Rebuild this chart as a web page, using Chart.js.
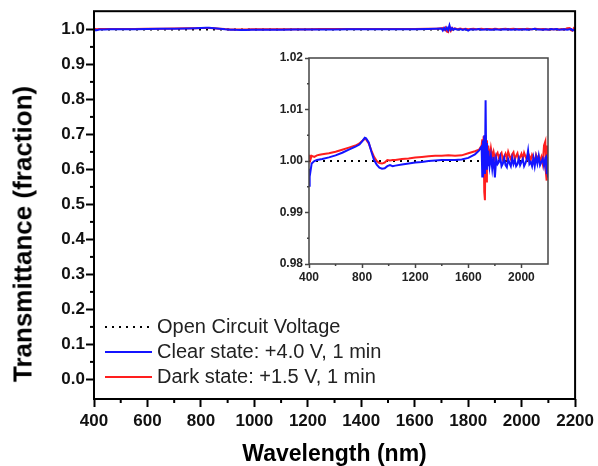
<!DOCTYPE html>
<html lang="en">
<head>
  <meta charset="UTF-8" />
  <title>Transmittance</title>
  <script src="https://cdn.jsdelivr.net/npm/chart.js"></script>
  <style>
    body { margin: 0; background: #fff; overflow: hidden; }
    #wrap { position: relative; width: 598px; height: 466px; font-family: "Liberation Sans", Arial, sans-serif; }
    #mainChart { position: absolute; left: 0; top: 0; }
    #insetChart { position: absolute; left: 262px; top: 46px; }
    .ytitle { position: absolute; left: 23px; top: 234px; transform: translate(-50%, -50%) rotate(-90deg);
      white-space: nowrap; font-size: 26px; font-weight: bold; color: #000; }
    .legend { position: absolute; left: 105px; top: 314px; font-size: 20px; color: #222; }
    .legend div { height: 25px; display: flex; align-items: center; }
    .legend span.mark { display: inline-block; width: 47px; height: 2px; margin-right: 5px; }
  </style>
</head>
<body>
  <div id="wrap">
    <canvas id="mainChart" width="598" height="466"></canvas>
    <canvas id="insetChart" width="298" height="246"></canvas>
    <div class="ytitle">Transmittance (fraction)</div>
    <div class="legend">
      <div><span class="mark" style="background: repeating-linear-gradient(to right, #000 0 2px, transparent 2px 7px);"></span>Open Circuit Voltage</div>
      <div><span class="mark" style="background:#1414ff"></span>Clear state: +4.0 V, 1 min</div>
      <div><span class="mark" style="background:#ff1e1e"></span>Dark state: +1.5 V, 1 min</div>
    </div>
  </div>

  <script>
    // wavelength (nm)
    const wavelengths = [400,405,410,420,440,460,480,500,550,600,650,700,750,780,800,820,830,850,870,890,
      910,930,950,970,990,1010,1030,1050,1100,1150,1200,1250,1300,1350,1400,1450,1500,1550,1600,1650,
      1680,1700,1705,1710,1715,1720,1725,1730,1735,1740,1745,1750,1760,1770,1780,1790,1800,1810,1820,1830,
      1840,1850,1860,1870,1880,1890,1900,1910,1920,1930,1940,1950,1960,1970,1980,1990,2000,2010,2020,2030,
      2040,2050,2060,2070,2080,2090,2100,2110,2120,2130,2140,2150,2160,2170,2180,2185,2190,2195,2200];

    // clear state +4.0 V (blue)
    const clearState = [0.9952,0.9985,0.9978,0.9995,1.0000,1.0002,1.0003,1.0004,1.0007,1.0011,1.0016,1.0022,1.0028,1.0032,1.0038,1.0045,1.0044,1.0036,1.0018,1.0002,
      0.9993,0.9987,0.9985,0.9986,0.9990,0.9992,0.9990,0.9991,0.9993,0.9995,0.9997,0.9998,1.0000,1.0001,1.0002,1.0002,1.0002,1.0003,1.0006,1.0013,
      1.0020,1.0028,0.9970,1.0040,0.9985,1.0050,0.9975,1.0118,0.9985,1.0035,0.9990,1.0020,0.9990,1.0010,0.9985,1.0008,0.9968,1.0005,0.9994,0.9998,
      1.0008,0.9990,0.9995,1.0006,0.9992,0.9988,1.0004,0.9996,0.9990,1.0006,0.9994,1.0002,0.9990,0.9994,1.0005,0.9992,0.9998,1.0004,0.9990,0.9996,
      1.0003,1.0020,0.9994,0.9998,0.9990,1.0006,0.9990,1.0008,0.9995,1.0010,0.9992,0.9998,1.0004,0.9990,1.0006,1.0008,0.9975,0.9985,0.9968];

    // dark state +1.5 V (red)
    const darkState = [1.0005,1.0012,1.0002,1.0010,1.0008,1.0011,1.0012,1.0013,1.0015,1.0018,1.0022,1.0026,1.0030,1.0034,1.0039,1.0043,1.0042,1.0034,1.0020,1.0008,
      1.0000,0.9996,0.9995,0.9997,1.0002,1.0001,1.0002,1.0002,1.0004,1.0005,1.0007,1.0008,1.0009,1.0010,1.0010,1.0011,1.0010,1.0011,1.0015,1.0019,
      1.0022,1.0030,1.0042,0.9990,1.0048,0.9940,0.9924,1.0050,0.9960,1.0040,1.0002,1.0030,1.0005,1.0025,1.0008,1.0018,1.0004,1.0012,1.0016,1.0006,
      1.0012,1.0016,1.0003,1.0008,1.0014,1.0005,1.0018,1.0010,1.0004,1.0013,1.0017,1.0003,1.0010,1.0015,1.0002,1.0008,1.0014,1.0005,1.0016,1.0009,
      1.0003,1.0015,1.0010,1.0002,1.0012,1.0006,0.9998,1.0012,1.0004,1.0010,1.0000,1.0008,0.9995,1.0030,1.0038,0.9975,0.9962,1.0030,0.9985];

    // open circuit voltage reference
    const ocvWavelengths = [400, 2200];
    const ocvValues = [1.0, 1.0];

    Chart.defaults.font.family = "'Liberation Sans', Arial, sans-serif";
    Chart.defaults.color = '#111';

    const pts = (xs, ys) => xs.map((x, i) => ({ x: x, y: ys[i] }));

    // box frame + minor ticks between the major ones
    const frameMinor = {
      id: 'frameMinor',
      afterDraw(chart, args, o) {
        const { ctx, chartArea: a, scales } = chart;
        ctx.save();
        ctx.strokeStyle = o.color;
        ctx.lineWidth = o.width;
        ctx.strokeRect(a.left, a.top, a.right - a.left, a.bottom - a.top);
        ['x', 'y'].forEach(id => {
          const s = scales[id];
          const t = s.ticks;
          for (let i = 0; i < t.length - 1; i++) {
            const p = s.getPixelForValue((t[i].value + t[i + 1].value) / 2);
            ctx.beginPath();
            if (id === 'x') { ctx.moveTo(p, a.bottom); ctx.lineTo(p, a.bottom + o.minorLen); }
            else { ctx.moveTo(a.left, p); ctx.lineTo(a.left - o.minorLen, p); }
            ctx.stroke();
          }
        });
        ctx.restore();
      }
    };

    function datasets(width) {
      return [
        { label: 'Clear state: +4.0 V, 1 min', data: pts(wavelengths, clearState), borderColor: '#1414ff', borderWidth: width, pointRadius: 0 },
        { label: 'Dark state: +1.5 V, 1 min', data: pts(wavelengths, darkState), borderColor: '#ff1e1e', borderWidth: width, pointRadius: 0 },
        { label: 'Open Circuit Voltage', data: pts(ocvWavelengths, ocvValues), borderColor: '#000', borderWidth: 2, borderDash: [2, 5], pointRadius: 0 }
      ];
    }

    const plain = v => String(v);

    new Chart(document.getElementById('mainChart'), {
      type: 'line',
      data: { datasets: datasets(2) },
      options: {
        responsive: false,
        animation: false,
        layout: { padding: { top: 11, right: 21, left: 0, bottom: 0 } },
        plugins: {
          legend: { display: false },
          tooltip: { enabled: false },
          frameMinor: { color: '#000', width: 2, minorLen: 4 }
        },
        scales: {
          x: {
            type: 'linear', min: 400, max: 2200,
            afterFit: s => { s.height = 67; },
            border: { display: false },
            grid: { drawOnChartArea: false, tickLength: 8, tickWidth: 2, tickColor: '#000' },
            ticks: { stepSize: 200, padding: 4, maxRotation: 0, font: { size: 17, weight: 'bold' }, color: '#111', callback: plain },
            title: { display: true, text: 'Wavelength (nm)', color: '#000', padding: { top: 0, bottom: 0 }, font: { size: 23, weight: 'bold', lineHeight: 1 } }
          },
          y: {
            min: -0.056, max: 1.052,
            afterFit: s => { s.width = 94; },
            border: { display: false },
            grid: { drawOnChartArea: false, tickLength: 8, tickWidth: 2, tickColor: '#000' },
            ticks: { stepSize: 0.1, includeBounds: false, padding: 1, font: { size: 17, weight: 'bold' }, color: '#111',
              callback: v => v.toFixed(1) }
          }
        }
      },
      plugins: [frameMinor]
    });

    new Chart(document.getElementById('insetChart'), {
      type: 'line',
      data: { datasets: datasets(2) },
      options: {
        responsive: false,
        animation: false,
        layout: { padding: { top: 12, right: 12, left: 0, bottom: 0 } },
        plugins: {
          legend: { display: false },
          tooltip: { enabled: false },
          frameMinor: { color: '#444', width: 1.5, minorLen: 2 }
        },
        scales: {
          x: {
            type: 'linear', min: 400, max: 2200,
            afterFit: s => { s.height = 28; },
            border: { display: false },
            grid: { drawOnChartArea: false, tickLength: 4, tickWidth: 1.5, tickColor: '#444' },
            ticks: { stepSize: 400, includeBounds: false, padding: 2, maxRotation: 0, font: { size: 12, weight: 'bold' }, color: '#222', callback: plain }
          },
          y: {
            min: 0.98, max: 1.02,
            afterFit: s => { s.width = 47; },
            border: { display: false },
            grid: { drawOnChartArea: false, tickLength: 4, tickWidth: 1.5, tickColor: '#444' },
            ticks: { stepSize: 0.01, includeBounds: false, padding: 2, font: { size: 12, weight: 'bold' }, color: '#222',
              callback: v => v.toFixed(2) }
          }
        }
      },
      plugins: [frameMinor]
    });
  </script>
</body>
</html>
